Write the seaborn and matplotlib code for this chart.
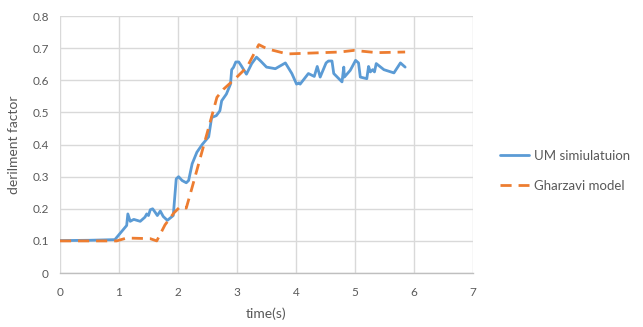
import matplotlib
matplotlib.use("Agg")
import matplotlib.pyplot as plt
import seaborn as sns
import pandas as pd

# UM simulation trace
um_time = [0.0, 0.50, 0.93, 1.13, 1.15, 1.19, 1.25, 1.36, 1.44, 1.47, 1.50, 1.53, 1.57,
           1.61, 1.65, 1.70, 1.75, 1.82, 1.92, 1.97, 2.01, 2.07, 2.14, 2.18, 2.24, 2.32,
           2.41, 2.52, 2.57, 2.65, 2.71, 2.74, 2.82, 2.89, 2.91, 2.94, 2.98, 3.03, 3.07,
           3.16, 3.25, 3.33, 3.40, 3.50, 3.65, 3.82, 3.93, 4.01, 4.05, 4.07, 4.21, 4.31,
           4.36, 4.41, 4.51, 4.55, 4.61, 4.64, 4.78, 4.81, 4.82, 4.92, 5.01, 5.06, 5.09,
           5.20, 5.23, 5.26, 5.30, 5.33, 5.36, 5.49, 5.66, 5.77, 5.85]
um_factor = [0.101, 0.102, 0.104, 0.148, 0.184, 0.161, 0.167, 0.161, 0.174, 0.184, 0.179,
             0.197, 0.200, 0.190, 0.179, 0.193, 0.176, 0.164, 0.179, 0.293, 0.300, 0.288,
             0.281, 0.288, 0.340, 0.376, 0.400, 0.424, 0.484, 0.490, 0.505, 0.536, 0.557,
             0.588, 0.633, 0.640, 0.657, 0.657, 0.646, 0.619, 0.652, 0.672, 0.660, 0.641,
             0.636, 0.654, 0.621, 0.588, 0.592, 0.588, 0.621, 0.612, 0.643, 0.610, 0.654,
             0.660, 0.660, 0.621, 0.595, 0.641, 0.610, 0.631, 0.662, 0.654, 0.610, 0.605,
             0.643, 0.626, 0.633, 0.626, 0.652, 0.633, 0.623, 0.654, 0.641]

# Gharzavi model curve
gh_time = [0.0, 0.96, 1.13, 1.53, 1.64, 1.78, 1.93, 2.04, 2.14, 2.24, 2.38, 2.52, 2.66,
           2.77, 2.97, 3.17, 3.37, 3.51, 3.85, 4.30, 4.75, 4.98, 5.37, 5.85]
gh_factor = [0.100, 0.100, 0.109, 0.107, 0.100, 0.150, 0.187, 0.207, 0.202, 0.267, 0.360,
             0.453, 0.547, 0.572, 0.605, 0.641, 0.711, 0.698, 0.682, 0.685, 0.688, 0.693,
             0.686, 0.688]

x_ticks = [0, 1, 2, 3, 4, 5, 6, 7]
y_ticks = [0, 0.1, 0.2, 0.3, 0.4, 0.5, 0.6, 0.7, 0.8]

sns.set_theme(style="white")
plt.rcParams["font.family"] = ["Lato", "DejaVu Sans"]

fig = plt.figure(figsize=(6.43, 3.27), dpi=100)
ax = fig.add_axes([0.0933, 0.165, 0.6423, 0.786])

um = pd.DataFrame({"time": um_time, "factor": um_factor})
gh = pd.DataFrame({"time": gh_time, "factor": gh_factor})

sns.lineplot(data=um, x="time", y="factor", ax=ax, color="#5B9BD5", linewidth=2.0,
             sort=False, estimator=None, label="UM simiulatuion")
sns.lineplot(data=gh, x="time", y="factor", ax=ax, color="#ED7D31", linewidth=2.0,
             sort=False, estimator=None, label="Gharzavi model")
ax.lines[1].set_dashes([4, 2.5])

ax.set_xlim(0, 7)
ax.set_ylim(0, 0.8)
ax.set_xticks(x_ticks)
ax.set_yticks(y_ticks)
ax.set_xticklabels([str(t) for t in x_ticks])
ax.set_yticklabels(["0"] + [f"{v:.1f}" for v in y_ticks[1:]])
ax.grid(True, color="#d9d9d9", linewidth=1.0)
ax.set_axisbelow(True)
for side in ["top", "right", "left"]:
    ax.spines[side].set_visible(False)
ax.spines["bottom"].set_color("#bfbfbf")
ax.spines["bottom"].set_linewidth(1.0)
ax.tick_params(axis="x", length=0, labelsize=8.5, colors="#595959", pad=10)
ax.tick_params(axis="y", length=0, labelsize=8.5, colors="#595959", pad=8)
ax.set_xlabel("time(s)", fontsize=10, color="#595959", labelpad=7)
ax.set_ylabel("derilment factor", fontsize=10, color="#595959", labelpad=9)

leg = ax.legend(loc="center left", bbox_to_anchor=(500 / 643, 0.477),
                bbox_transform=fig.transFigure, frameon=False,
                fontsize=9.5, labelcolor="#595959", handlelength=2.2,
                handletextpad=0.4, labelspacing=1.35, borderpad=0, borderaxespad=0)

fig.savefig("out.png", dpi=100)
